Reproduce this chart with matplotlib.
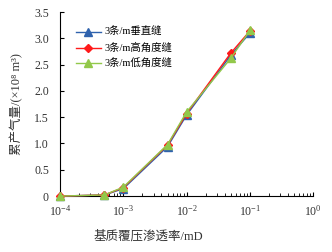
import matplotlib.pyplot as plt

plt.rcParams['font.family'] = ['Liberation Serif', 'Noto Sans CJK SC', 'DejaVu Sans']
plt.rcParams['mathtext.fontset'] = 'stix'

perm = [1e-4, 5e-4, 1e-3, 5e-3, 1e-2, 5e-2, 1e-1]
vertical = [0, 0.02, 0.14, 0.94, 1.54, 2.68, 3.10]
high_angle = [0, 0.02, 0.16, 0.97, 1.57, 2.72, 3.14]
low_angle = [0, 0.02, 0.17, 0.98, 1.60, 2.62, 3.15]
labels = ['3条/m垂直缝', '3条/m高角度缝', '3条/m低角度缝']

fig = plt.figure(figsize=(3.32, 2.52), dpi=100)
ax = fig.add_axes([0.181, 0.222, 0.762, 0.73])

ax.plot(perm, vertical, color='#2f62ad', marker='^', ms=6, lw=1.0, label=labels[0], clip_on=False, zorder=3)
ax.plot(perm, high_angle, color='#ff1a1a', marker='D', ms=4, lw=1.0, label=labels[1], clip_on=False, zorder=4)
ax.plot(perm, low_angle, color='#92c84a', marker='^', ms=6, lw=1.0, label=labels[2], clip_on=False, zorder=5)

ax.set_xscale('log')
ax.set_xlim(1e-4, 1)
ax.set_ylim(0, 3.5)
ax.set_yticks([0, 0.5, 1.0, 1.5, 2.0, 2.5, 3.0, 3.5])
ax.set_yticklabels(['0', '0.5', '1.0', '1.5', '2.0', '2.5', '3.0', '3.5'])
ax.spines['top'].set_visible(False)
ax.spines['right'].set_visible(False)
ax.tick_params(direction='in', labelsize=8.5, length=3, width=0.8, labelcolor='#333333')
ax.tick_params(which='minor', direction='in', length=2, width=0.6)
ax.tick_params(axis='x', pad=6)
ax.tick_params(axis='y', pad=8)

ax.set_xlabel('基质覆压渗透率/mD', fontsize=9, color='#333333')
ax.xaxis.set_label_coords(0.35, -0.185)
ax.set_ylabel('累产气量/(×10⁸ m³)', fontsize=9, color='#333333', labelpad=8)

ax.legend(loc='upper left', bbox_to_anchor=(0.045, 0.94), frameon=False, fontsize=7.5,
          handlelength=2.4, labelspacing=0.55, borderaxespad=0, handletextpad=0.4)

fig.savefig('out.png', dpi=100)
